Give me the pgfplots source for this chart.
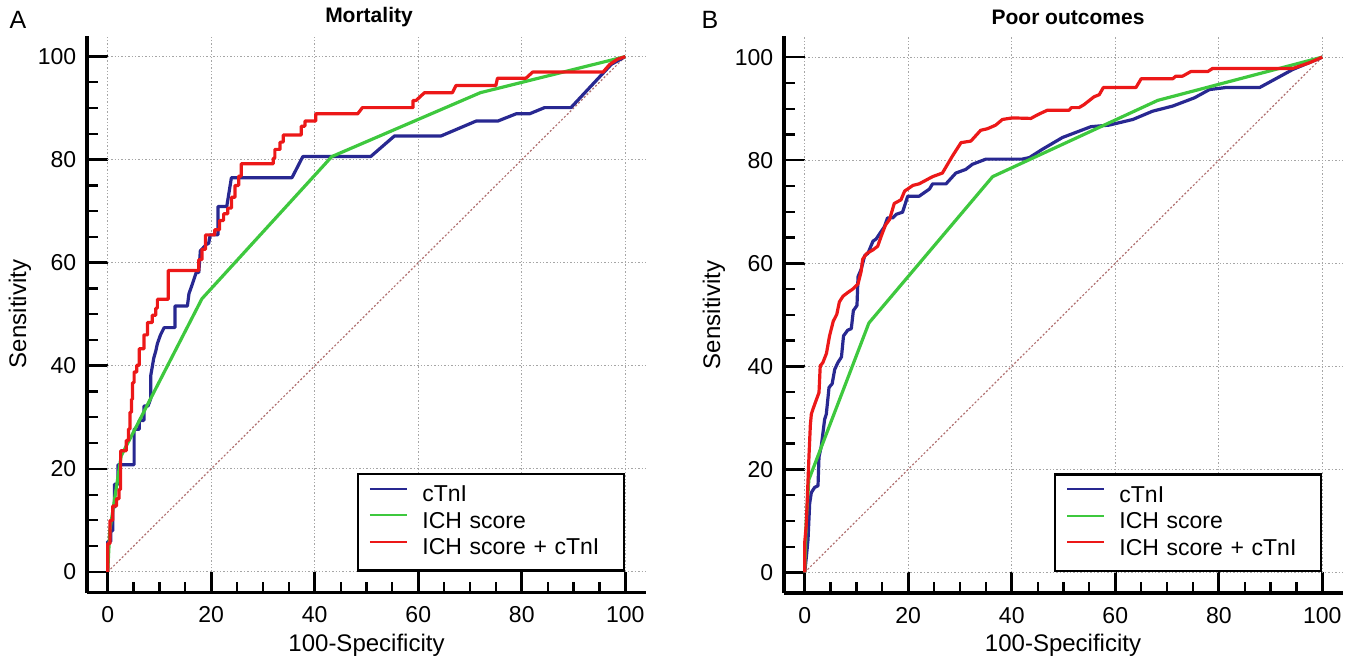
\documentclass[border=0pt]{standalone}
\usepackage{fontspec}
\setmainfont{Liberation Sans}
\usepackage{pgfplots}
\pgfplotsset{compat=1.18}

\definecolor{ctnblue}{RGB}{40,40,145}
\definecolor{ichgreen}{RGB}{62,200,62}
\definecolor{comred}{RGB}{236,24,24}
\definecolor{diagcol}{RGB}{176,112,112}

\newcommand{\lblfont}{\fontsize{12}{14}\selectfont}
\newcommand{\tickfont}{\fontsize{11.5}{13.5}\selectfont}

\tikzset{gridline/.style={gray!70, line width=0.5pt, dash pattern=on 0.7pt off 1pt}}

\pgfplotsset{
  rocaxis/.style={
    width=279.5pt, height=278.25pt, scale only axis,
    xmin=-4, xmax=104, ymin=-4, ymax=104,
    axis x line=bottom, axis y line=left,
    axis line style={line width=1.65pt, -},
    xtick={0,20,40,60,80,100}, ytick={0,20,40,60,80,100},
    minor tick num=3,
    tick align=inside,
    major tick length=10.35pt, minor tick length=5.5pt,
    major tick style={line width=1.3pt, black},
    minor tick style={line width=1.1pt, black},
    /pgf/number format/assume math mode=true,
    tick label style={font=\tickfont},
    xticklabel style={inner sep=0pt, yshift=-6.8pt},
    yticklabel style={inner sep=0pt, xshift=-5.2pt},
    clip=false,
    legend style={at={(axis cs:100,0)}, anchor=south east, draw=black,
      line width=1.3pt, fill=white, inner xsep=5.5pt, inner ysep=4.8pt,
      row sep=1.3pt, column sep=7pt, font=\tickfont,
      nodes={inner sep=0pt, text height=9pt, text depth=3pt,
        text width=95.3pt, align=left}},
    legend image code/.code={\draw[#1, line width=1pt] (0pt,3.5pt) -- (18.7pt,3.5pt);},
    legend cell align=left,
  },
  roc/.style={line width=1.6pt, line join=round},
}

\begin{document}
\begin{tikzpicture}
\useasboundingbox (0,0) rectangle (676.5pt,-331pt);

% ---- A: mortality
\begin{axis}[rocaxis, at={(43.5pt,-296.25pt)}, anchor=south west]
\pgfplotsinvokeforeach{0,20,40,60,80,100}{
  \draw[gridline] (axis cs:#1,0) -- (axis cs:#1,104);
  \draw[gridline] (axis cs:0,#1) -- (axis cs:104,#1);
}
\addplot[diagcol, line width=0.6pt, dash pattern=on 1pt off 1pt, forget plot] coordinates {(0,0)(100,100)};
\addplot[roc, color=ctnblue] coordinates {
(0,0)(0,5.9)(0.6,5.9)(0.6,8)(1.0,8)(1.0,12.5)(1.3,12.5)(1.3,17)(2.0,17)(2.0,20.8)
(5.1,20.8)(5.1,27.7)(6.1,27.7)(6.1,29.4)(7.0,29.4)(7.0,32.2)(7.8,32.2)(8.3,33.6)
(8.3,38)(8.9,41.5)(9.3,42.9)(9.6,44.3)(10.2,46)(10.9,47.4)(13,47.4)(13,51.6)
(15.4,51.6)(15.7,54)(16.3,55.7)(17.1,58.1)(17.6,58.1)(17.9,62.3)(19.2,63.7)
(19.5,63.7)(19.8,65.4)(21.3,65.4)(21.3,70.9)(23,70.9)(23.9,76.5)(35.6,76.5)
(37.7,80.6)(50.8,80.6)(55.4,84.6)(64.4,84.6)(71.2,87.5)(75.4,87.5)(78.9,88.9)
(81.5,88.9)(84.4,90.1)(89.5,90.1)(97.3,98.5)(100,100)};
\addlegendentry{cTnI}
\addplot[roc, color=ichgreen] coordinates {
(0,0)(0.4,8)(2.6,22.5)(18.2,53)(43.3,80.6)(72,93)(100,100)};
\addlegendentry{ICH score}
\addplot[roc, color=comred] coordinates {
(0,0)(0,5.5)(0.45,5.5)(0.45,10)(0.96,10)(0.96,12.8)(1.7,12.8)(1.7,14.2)(2.2,14.2)
(2.2,16)(2.5,16)(2.5,23.5)(3.6,23.5)(3.6,25.5)(4.0,25.5)(4.0,27.7)(4.3,27.7)
(4.3,31)(4.6,31)(4.6,33.5)(4.8,33.5)(4.8,36.7)(5.1,36.7)(5.1,38.8)(5.6,38.8)
(5.6,40.1)(6.1,40.1)(6.1,43.3)(7.0,43.3)(7.0,46)(7.7,46)(7.7,48.4)(8.6,48.4)
(8.6,49.8)(9.3,49.8)(9.3,51.2)(9.6,51.2)(9.6,52.9)(11.7,52.9)(11.7,58.5)
(17.6,58.5)(17.6,60.6)(18.2,60.6)(18.2,62.6)(18.9,62.6)(18.9,65.4)(20.7,65.4)
(20.7,66.4)(21.6,66.4)(21.6,68.2)(22.4,68.2)(22.4,69.5)(23.2,69.5)(23.2,70.6)
(23.9,70.6)(23.9,72.7)(24.6,72.7)(24.6,75)(25.3,75)(25.3,76.8)(25.8,76.8)
(25.8,79.2)(32,79.2)(32,80.3)(32.3,80.3)(32.3,82)(33.3,82)(33.3,83.4)(33.9,83.4)
(33.9,84.8)(37.4,84.8)(37.4,86.5)(38.1,86.5)(38.1,87.5)(40.2,87.5)(40.2,88.9)
(48.3,88.9)(49.2,90.1)(59,90.1)(59,91.5)(59.6,91.5)(61.2,93)(66.6,93)(67.3,94.4)
(75,94.4)(75.3,95.8)(80.8,95.8)(82.1,97)(95.7,97)(97,98.5)(98.5,99.5)(100,100)};
\addlegendentry{ICH score + cTnI}
\end{axis}

% ---- B: poor outcomes
\begin{axis}[rocaxis, at={(392pt,-296.5pt)}, anchor=south west]
\pgfplotsinvokeforeach{0,20,40,60,80,100}{
  \draw[gridline] (axis cs:#1,0) -- (axis cs:#1,104);
  \draw[gridline] (axis cs:0,#1) -- (axis cs:104,#1);
}
\addplot[diagcol, line width=0.6pt, dash pattern=on 1pt off 1pt, forget plot] coordinates {(0,0)(100,100)};
\addplot[roc, color=ctnblue] coordinates {
(0,0)(0.32,3)(0.64,6.4)(0.96,13.4)(1.28,15.5)(1.93,16.5)(2.57,16.8)(2.76,22.4)
(3.2,24.5)(3.85,29.7)(4.17,30.7)(4.7,35.9)(5.3,36.6)(5.8,39.4)(6.4,40.7)(7.1,41.8)
(7.5,45.9)(8.3,47)(9,47.3)(9.4,50.8)(10.1,51.8)(10.3,57.4)(10.9,58.8)(11.6,61.5)
(12.2,61.9)(13.2,64.3)(13.8,64.7)(15.4,67.1)(16,68.8)(17,68.8)(17.7,69.5)(18.9,69.9)
(19.9,73)(22.1,73)(24.1,74.4)(24.7,75.4)(27.3,75.4)(29.2,77.5)(31.1,78.2)(32.4,79.2)
(35,80.2)(42,80.2)(43.4,80.5)(45.9,82.1)(49.8,84.4)(55.3,86.5)(58.8,86.8)(63.4,87.9)
(67.2,89.5)(71.1,90.5)(75.3,92.1)(78.2,93.7)(81.4,94.1)(87.9,94.1)(94.3,97.6)(100,100)};
\addlegendentry{cTnI}
\addplot[roc, color=ichgreen] coordinates {
(0,0)(0.3,10)(0.8,18)(12.4,48.4)(36.3,76.8)(68.2,91.6)(100,100)};
\addlegendentry{ICH score}
\addplot[roc, color=comred] coordinates {
(0,0)(0,5.8)(0.3,9.2)(0.83,22.7)(1.09,28.6)(1.28,30.7)(1.6,31.7)(2.1,33.1)(2.76,34.9)
(3.0,40.1)(3.5,40.7)(4.2,42.5)(4.8,45.9)(5.5,48.7)(6.2,50.1)(6.7,52.5)(7.4,53.6)
(8.3,54.3)(9.3,55)(10.3,56)(10.9,58.4)(11.2,60.8)(12.0,61.9)(13.2,62.6)(14.1,63.3)
(14.8,65.3)(15.6,67.4)(16.4,68.5)(17.3,71.6)(18.6,72.3)(19.3,74)(20.9,75.1)(22.1,75.4)
(23.4,76.1)(24.7,76.8)(26.6,77.5)(27.6,79.2)(28.6,80.9)(30.2,83.4)(32.1,83.7)(34,85.8)
(35.3,86.1)(36.9,86.8)(38.2,87.9)(40.1,88.2)(43.7,88.1)(44.6,88.6)(45.6,89.1)(46.9,89.7)
(51.1,89.7)(51.5,90.2)(53,90.2)(54,90.8)(55,91.6)(55.9,92.3)(56.9,92.7)(57.7,94.1)
(64,94.1)(65,95.8)(71.1,95.8)(71.7,96.3)(73,96.3)(74.6,97.2)(77.9,97.2)(78.8,97.8)
(94.3,97.8)(97.5,98.9)(100,100)};
\addlegendentry{ICH score + cTnI}
\end{axis}

% ---- texts outside the axes
\node[font=\fontsize{12.5}{14}\selectfont] at (9pt,-10pt) {A};
\node[font=\fontsize{12.5}{14}\selectfont] at (355pt,-10pt) {B};
\node[font=\fontsize{10.5}{12}\selectfont\bfseries] at (184.5pt,-8.5pt) {Mortality};
\node[font=\fontsize{10.5}{12}\selectfont\bfseries] at (534pt,-8.5pt) {Poor outcomes};
\node[font=\lblfont, rotate=90] at (10pt,-157pt) {Sensitivity};
\node[font=\lblfont, rotate=90] at (357pt,-157.5pt) {Sensitivity};
\node[font=\lblfont] at (183.25pt,-322.5pt) {100-Specificity};
\node[font=\lblfont] at (531.5pt,-322.5pt) {100-Specificity};
\end{tikzpicture}
\end{document}
